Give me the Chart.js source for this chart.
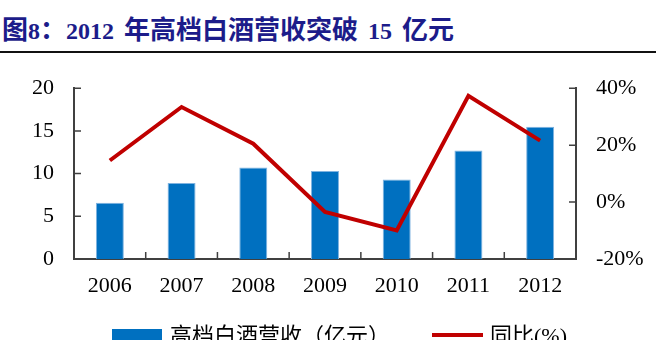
<!DOCTYPE html>
<html><head><meta charset="utf-8">
<script src="https://cdn.jsdelivr.net/npm/chart.js@4.4.0/dist/chart.umd.min.js"></script>
<style>
html,body{margin:0;padding:0;background:#fff;overflow:hidden;width:658px;height:340px;}
#title{position:absolute;left:2px;top:13px;font:bold 24px "Liberation Serif","Noto Sans CJK SC",serif;color:#1c1c8a;white-space:pre;line-height:30px;word-spacing:4px;}
#title .c{font-family:"Noto Sans CJK SC",sans-serif;font-size:26px;}
#rule{position:absolute;left:0;top:51px;width:656px;height:2px;background:#111;}
#wrap{position:absolute;left:0;top:55px;width:658px;height:300px;}
</style></head><body>
<div id="title"><span class="c">图</span>8<span class="c">：</span>2012 <span class="c">年高档白酒营收突破</span> 15 <span class="c">亿元</span></div>
<div id="rule"></div>
<div id="wrap"><canvas id="c" width="658" height="300"></canvas></div>
<script>
const categories = ['2006','2007','2008','2009','2010','2011','2012'];
const revenue = [6.6, 8.9, 10.7, 10.3, 9.3, 12.7, 15.5];
const yoyGrowth = [14.6, 33.4, 20.5, -3.5, -10.0, 37.3, 21.6];
const leftTicks = [0, 5, 10, 15, 20];
const rightTicks = [-20, 0, 20, 40];
const seriesNames = ['高档白酒营收（亿元）', '同比(%)'];

const FONT = '"Liberation Serif","Noto Sans CJK SC",serif';
const AXIS = '#404040';

const tickMarks = {
  id: 'tickMarks',
  afterDraw(chart) {
    const {ctx, chartArea: a, scales} = chart;
    ctx.save();
    ctx.strokeStyle = AXIS;
    ctx.lineWidth = 1.5;
    ctx.beginPath();
    scales.y.ticks.forEach(t => {
      const y = scales.y.getPixelForValue(t.value);
      ctx.moveTo(a.left, y); ctx.lineTo(a.left + 7, y);
    });
    scales.y1.ticks.forEach(t => {
      const y = scales.y1.getPixelForValue(t.value);
      ctx.moveTo(a.right, y); ctx.lineTo(a.right - 7, y);
    });
    const n = scales.x.ticks.length;
    for (let i = 0; i < n - 1; i++) {
      const x = (scales.x.getPixelForTick(i) + scales.x.getPixelForTick(i + 1)) / 2;
      ctx.moveTo(x, a.bottom); ctx.lineTo(x, a.bottom - 7);
    }
    ctx.stroke();

    // legend
    const ds = chart.data.datasets;
    ctx.font = '22px ' + FONT;
    ctx.textBaseline = 'middle';
    ctx.textAlign = 'left';
    ctx.fillStyle = ds[0].backgroundColor;
    ctx.fillRect(112, 274, 50, 20);
    ctx.fillStyle = '#000';
    ctx.fillText(ds[0].label, 170, 282);
    ctx.strokeStyle = ds[1].borderColor;
    ctx.lineWidth = 4;
    ctx.beginPath();
    ctx.moveTo(432, 280); ctx.lineTo(483, 280);
    ctx.stroke();
    ctx.fillText(ds[1].label, 490, 282);
    ctx.restore();
  }
};

new Chart(document.getElementById('c'), {
  data: {
    labels: categories,
    datasets: [
      {
        type: 'bar', label: seriesNames[0], data: revenue, yAxisID: 'y',
        backgroundColor: '#0070c0', borderColor: '#7fb3e0', borderWidth: 1,
        barPercentage: 0.39, categoryPercentage: 1, order: 2
      },
      {
        type: 'line', label: seriesNames[1], data: yoyGrowth, yAxisID: 'y1',
        borderColor: '#c00000', borderWidth: 4, pointRadius: 0, tension: 0,
        fill: false, order: 1
      }
    ]
  },
  options: {
    responsive: false, animation: false, devicePixelRatio: 1,
    layout: {padding: {top: 26, left: 0, right: 0, bottom: 0}},
    plugins: {legend: {display: false}, tooltip: {enabled: false}},
    scales: {
      x: {
        type: 'category', offset: true,
        grid: {display: false, drawTicks: false},
        border: {display: true, color: AXIS, width: 2},
        ticks: {font: {family: FONT, size: 22}, color: '#000', padding: 14, maxRotation: 0, autoSkip: false},
        afterFit: s => { s.height = 96; }
      },
      y: {
        type: 'linear', position: 'left', min: 0, max: 20,
        grid: {display: false, drawTicks: false},
        border: {display: true, color: AXIS, width: 2},
        afterBuildTicks: s => { s.ticks = leftTicks.map(v => ({value: v})); },
        ticks: {font: {family: FONT, size: 22}, color: '#000', padding: 20},
        afterFit: s => { s.width = 74; }
      },
      y1: {
        type: 'linear', position: 'right', min: -20, max: 40,
        grid: {display: false, drawTicks: false},
        border: {display: true, color: AXIS, width: 2},
        afterBuildTicks: s => { s.ticks = rightTicks.map(v => ({value: v})); },
        ticks: {font: {family: FONT, size: 22}, color: '#000', padding: 20, callback: v => v + '%'},
        afterFit: s => { s.width = 82; }
      }
    }
  },
  plugins: [tickMarks]
});
</script>
</body></html>
